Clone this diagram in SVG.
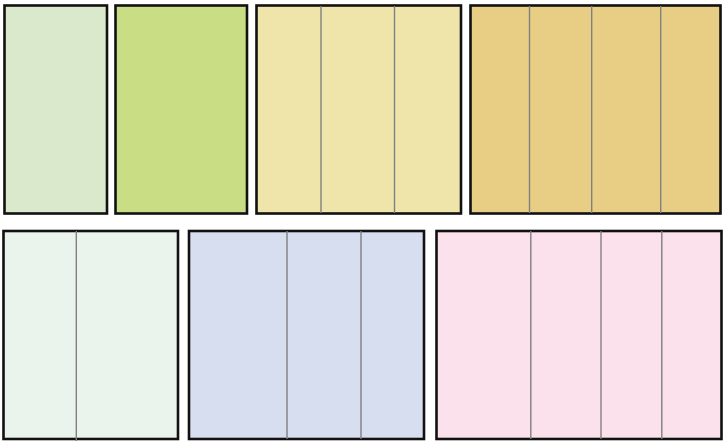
<svg xmlns="http://www.w3.org/2000/svg" width="725" height="441" viewBox="0 0 725 441">
<style>
.box{stroke:#111;stroke-width:2.6}
.div{stroke:#808080;stroke-width:1.4}
</style>
<rect width="725" height="441" fill="#fff"/>
<g id="box1"><rect class="box" x="4.5" y="5.5" width="102.5" height="208" fill="#dae8cc"/></g>
<g id="box2"><rect class="box" x="115.5" y="5.5" width="131.5" height="208" fill="#c9dd84"/></g>
<g id="box3"><rect class="box" x="256.5" y="5.5" width="204.5" height="208" fill="#efe4a9"/>
<line class="div" x1="321" y1="6" x2="321" y2="213"/><line class="div" x1="394.5" y1="6" x2="394.5" y2="213"/></g>
<g id="box4"><rect class="box" x="470.5" y="5.5" width="250" height="208" fill="#e8ce85"/>
<line class="div" x1="529.5" y1="6" x2="529.5" y2="213"/><line class="div" x1="591.7" y1="6" x2="591.7" y2="213"/><line class="div" x1="660.7" y1="6" x2="660.7" y2="213"/></g>
<g id="box5"><rect class="box" x="3.5" y="231" width="174.5" height="208" fill="#eaf3ec"/>
<line class="div" x1="76.3" y1="231" x2="76.3" y2="441"/></g>
<g id="box6"><rect class="box" x="189" y="231" width="235" height="208" fill="#d7def0"/>
<line class="div" x1="287" y1="231" x2="287" y2="439"/><line class="div" x1="361" y1="231" x2="361" y2="439"/></g>
<g id="box7"><rect class="box" x="436.5" y="231" width="285" height="208" fill="#fbe1eb"/>
<line class="div" x1="530.8" y1="231" x2="530.8" y2="439"/><line class="div" x1="601" y1="231" x2="601" y2="439"/><line class="div" x1="661.8" y1="231" x2="661.8" y2="439"/></g>
<g id="connectors"></g>
</svg>
